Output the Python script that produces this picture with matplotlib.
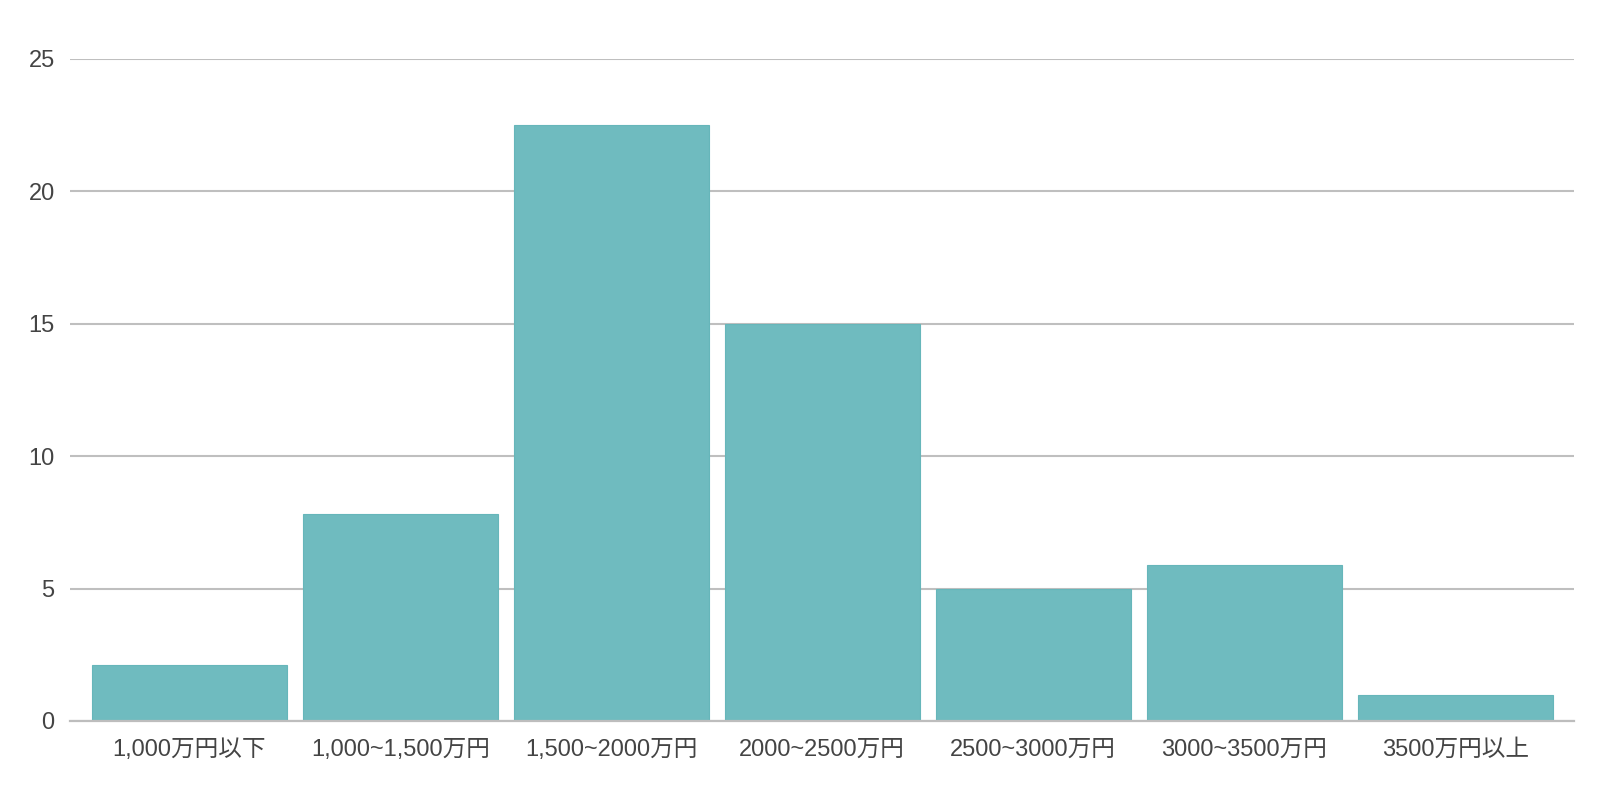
import numpy as np
import matplotlib.pyplot as plt

plt.rcParams['font.family'] = ['Liberation Sans', 'Noto Sans CJK JP']

categories = ['1,000万円以下', '1,000~1,500万円', '1,500~2000万円', '2000~2500万円',
              '2500~3000万円', '3000~3500万円', '3500万円以上']
values = [2.1, 7.8, 22.5, 15.0, 5.0, 5.9, 1.0]
yticks = [0, 5, 10, 15, 20, 25]

fig = plt.figure(figsize=(16, 8.09), dpi=100)
ax = fig.add_axes([0.04375, 0.1088, 0.9403, 0.8183])

x = np.arange(len(categories))
ax.bar(x, values, width=0.924, color='#6fbbbf', edgecolor='#66b6ba', linewidth=0.8, zorder=3)

ax.set_xlim(-0.566, len(categories) - 1 + 0.566)
ax.set_ylim(0, 25)
ax.set_yticks(yticks)
ax.set_xticks(x, categories)

ax.grid(axis='y', color='#bfbfbf', linewidth=1.5, zorder=0)
for s in ['top', 'right', 'left']:
    ax.spines[s].set_visible(False)
ax.spines['bottom'].set_color('#bdbdbd')
ax.spines['bottom'].set_linewidth(1.6)
ax.spines['bottom'].set_zorder(4)

ax.tick_params(axis='both', length=0, labelsize=17, labelcolor='#444444')
ax.tick_params(axis='y', pad=11)
ax.tick_params(axis='x', pad=13)

fig.savefig('out.png', dpi=100, facecolor='white')
